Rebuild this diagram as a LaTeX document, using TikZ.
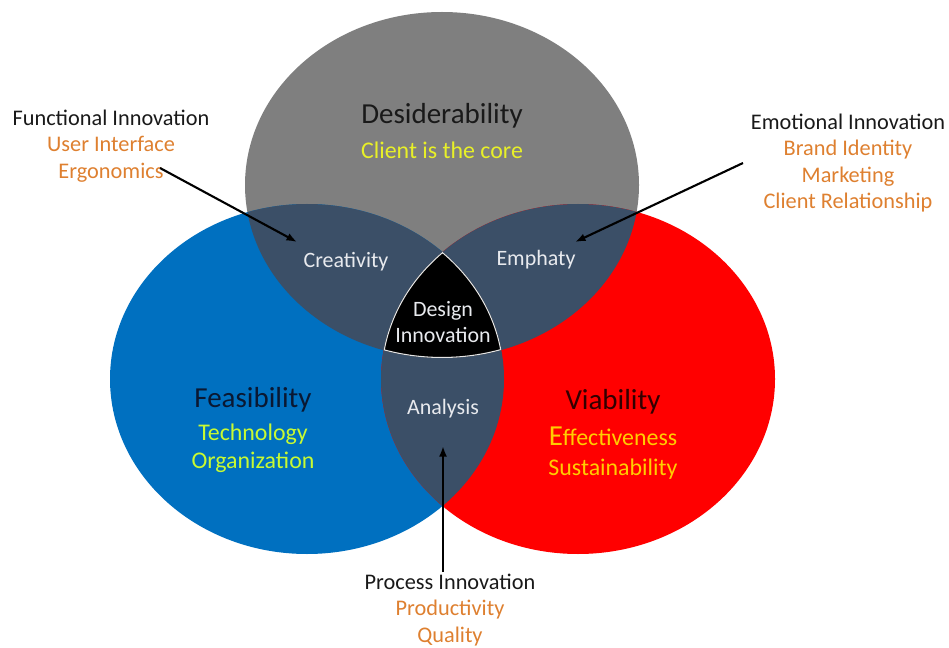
\documentclass[tikz,border=0pt]{standalone}
\usepackage{fontspec}
\setmainfont{Carlito}
\usetikzlibrary{arrows.meta}
\definecolor{desgray}{RGB}{127,127,127}
\definecolor{feasblue}{RGB}{0,112,192}
\definecolor{viabred}{RGB}{255,0,0}
\definecolor{overslate}{RGB}{59,79,103}
\definecolor{suborange}{RGB}{222,128,48}
\definecolor{clientyellow}{RGB}{232,240,40}
\definecolor{techgreen}{RGB}{200,250,50}
\definecolor{effgold}{RGB}{255,205,0}
\definecolor{feasnavy}{RGB}{10,24,50}
\definecolor{viabdark}{RGB}{50,0,0}
\definecolor{innerwhite}{RGB}{232,234,238}
\def\desellipse{(442,185) ellipse [x radius=197, y radius=173]}
\def\feasellipse{(307,379) ellipse [x radius=197, y radius=175]}
\def\viabellipse{(578,379) ellipse [x radius=197, y radius=175]}
\tikzset{
  titletext/.style={inner sep=0pt, font=\fontsize{16.5}{20}\selectfont},
  subtext/.style={inner sep=0pt, align=center, font=\fontsize{13.6}{16}\selectfont},
  sidetext/.style={inner sep=0pt, align=center, text=black!90, font=\fontsize{12.7}{15.1}\selectfont},
  innertext/.style={inner sep=0pt, align=center, text=innerwhite, font=\fontsize{12.5}{14.8}\selectfont},
  pointer/.style={line width=1.2pt, -{Latex[length=6pt, width=4.5pt]}},
}
\begin{document}
\begin{tikzpicture}[x=0.02cm, y=-0.02cm]
        \useasboundingbox (0,0) rectangle (949,648);
        \fill[desgray] \desellipse;
        \fill[feasblue] \feasellipse;
        \fill[viabred] \viabellipse;
        \begin{scope}
          \clip \desellipse;
          \fill[overslate] \feasellipse;
          \fill[overslate] \viabellipse;
        \end{scope}
        \begin{scope}
          \clip \feasellipse;
          \fill[overslate] \viabellipse;
        \end{scope}
        \begin{scope}
          \clip \desellipse;
          \clip \feasellipse;
          \clip \viabellipse;
          \fill[black] \desellipse;
          \draw[line width=1.2pt, white!80!gray] \desellipse \feasellipse \viabellipse;
        \end{scope}

        \node (desid) at (442,116) [titletext, text=black!90] {Desiderability};
        \node (desidsub) at (442,150) [subtext, text=clientyellow] {Client is the core};
        \node (feas) at (253,400) [titletext, text=feasnavy] {Feasibility};
        \node (feassub) at (253,448) [subtext, text=techgreen] {Technology\\Organization};
        \node (viab) at (613,402) [titletext, text=viabdark] {Viability};
        \node (viabsub) at (613,453) [subtext, text=effgold] {{\fontsize{16.5}{16}\selectfont E}ffectiveness\\[1.5pt]Sustainability};

        \node (creat) at (346,262) [innertext] {Creativity};
        \node (empha) at (536,260) [innertext] {Emphaty};
        \node (design) at (443,322) [innertext] {Design\\Innovation};
        \node (analy) at (443,409) [innertext] {Analysis};

        \node (funct) at (111,146) [sidetext] {Functional Innovation\\\textcolor{suborange}{User Interface}\\\textcolor{suborange}{Ergonomics}};
        \node (emoti) at (848,163) [sidetext] {Emotional Innovation\\\textcolor{suborange}{Brand Identity}\\\textcolor{suborange}{Marketing}\\\textcolor{suborange}{Client Relationship}};
        \node (proce) at (450,610) [sidetext] {Process Innovation\\\textcolor{suborange}{Productivity}\\\textcolor{suborange}{Quality}};

        \coordinate (functTail) at (160,168);
        \coordinate (functTip) at (297,242);
        \coordinate (emotiTail) at (743,163);
        \coordinate (emotiTip) at (575,242);
        \coordinate (proceTail) at (443,572);
        \coordinate (proceTip) at (443,446);
        \draw[pointer] (functTail) -- (functTip);
        \draw[pointer] (emotiTail) -- (emotiTip);
        \draw[pointer] (proceTail) -- (proceTip);
      \end{tikzpicture}
\end{document}
